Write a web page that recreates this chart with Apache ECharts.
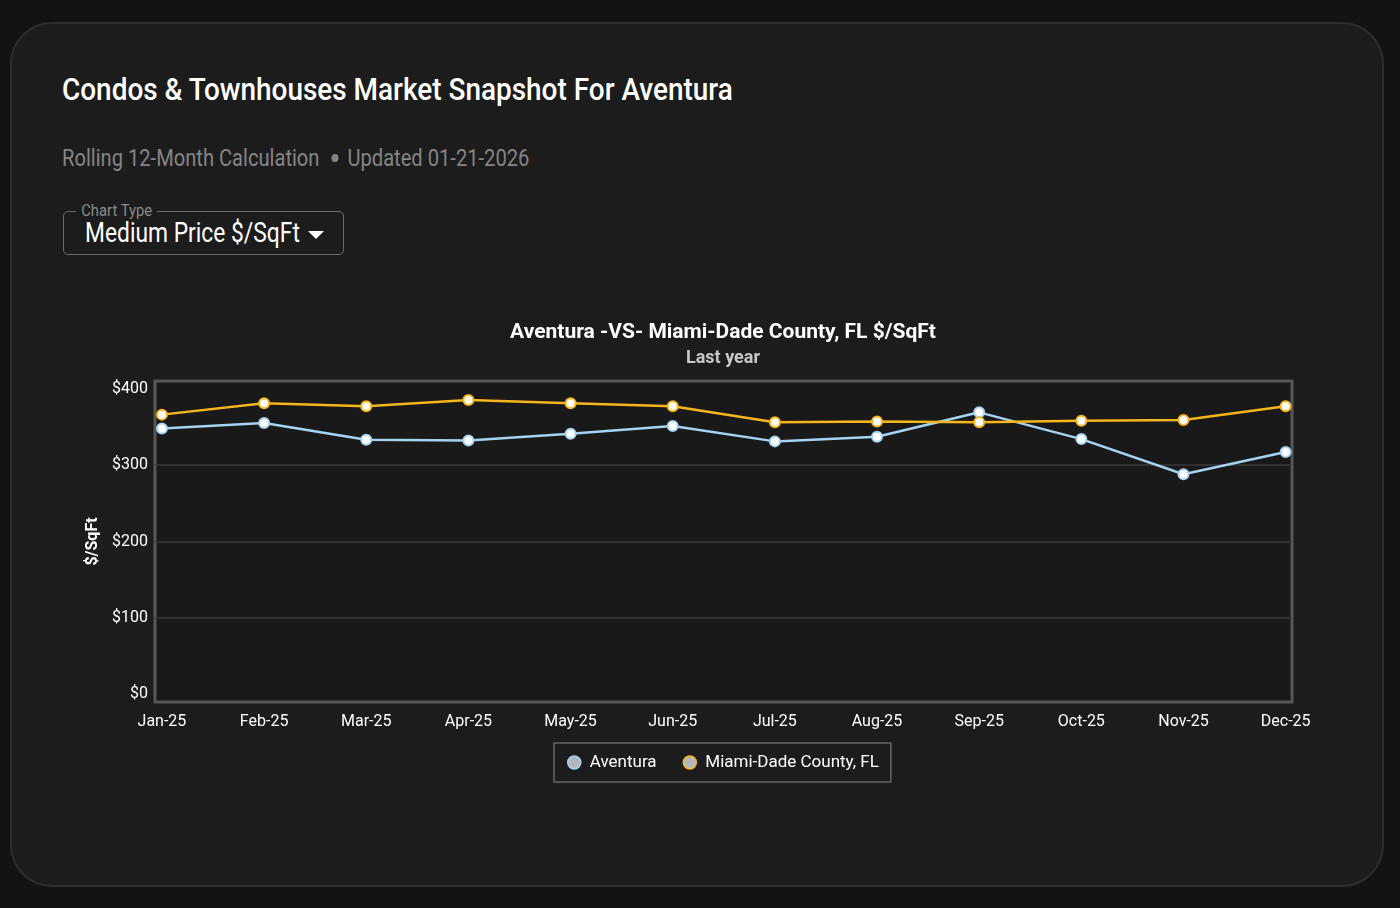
<!DOCTYPE html>
<html>
<head>
<meta charset="utf-8">
<title>Condos & Townhouses Market Snapshot For Aventura</title>
<script src="https://cdn.jsdelivr.net/npm/echarts@6/dist/echarts.min.js"></script>
<style>
  html, body { margin: 0; padding: 0; background: #131313; width: 1400px; height: 908px; overflow: hidden; font-family: Roboto, "Noto Sans", sans-serif; }
  .card { position: absolute; left: 10px; top: 22px; width: 1370px; height: 861px; background: #1c1c1c; border: 2px solid #2e2e2e; border-radius: 42px; }
  .head { position: absolute; left: 62px; top: 70px; color: #fff; font-size: 32px; font-weight: 500; transform: scaleX(0.873); transform-origin: left top; white-space: nowrap; }
  .sub { position: absolute; left: 62px; top: 145px; color: #858585; font-size: 23px; transform: scaleX(0.875); transform-origin: left top; white-space: nowrap; }
  .sub .dot { display: inline-block; width: 8px; height: 8px; border-radius: 50%; background: #858585; margin: 0 10px 0 14px; vertical-align: middle; position: relative; top: -2px; }
  .select { position: absolute; left: 63px; top: 211px; width: 281px; height: 44px; border: 1px solid #6a6a6a; border-radius: 5px; box-sizing: border-box; }
  .select .lbl { position: absolute; left: 12px; top: -12px; padding: 0 6px; background: #1c1c1c; color: #8a8a8a; font-size: 17px; transform: scaleX(0.87); transform-origin: left top; white-space: nowrap; }
  .select .val { position: absolute; left: 21px; top: 5px; color: #fff; font-size: 27px; transform: scaleX(0.845); transform-origin: left top; white-space: nowrap; }
  .select .caret { position: absolute; left: 244px; top: 19px; width: 0; height: 0; border-left: 8px solid transparent; border-right: 8px solid transparent; border-top: 8px solid #fff; }
  #chart { position: absolute; left: 0; top: 0; width: 1400px; height: 908px; }
</style>
</head>
<body>
<div class="card"></div>
<div class="head">Condos &amp; Townhouses Market Snapshot For Aventura</div>
<div class="sub">Rolling 12-Month Calculation<span class="dot"></span>Updated 01-21-2026</div>
<div class="select">
  <div class="lbl">Chart Type</div>
  <div class="val">Medium Price $/SqFt</div>
  <div class="caret"></div>
</div>
<div id="chart"></div>
<script>
// $/SqFt, last 12 months
const months = ['Jan-25', 'Feb-25', 'Mar-25', 'Apr-25', 'May-25', 'Jun-25', 'Jul-25', 'Aug-25', 'Sep-25', 'Oct-25', 'Nov-25', 'Dec-25'];
const aventura = [348, 355, 333, 332, 341, 351, 331, 337, 369, 334, 288, 317];
const miamiDade = [366, 381, 377, 385, 381, 377, 356, 357, 356, 358, 359, 377];
const yTicks = [0, 100, 200, 300, 400];
const yGridLines = [100, 200, 300];
const seriesNames = ['Aventura', 'Miami-Dade County, FL'];
const seriesColors = ['#a6d3f2', '#f7b51e'];

function toPoints(values) {
  return values.map(function(v, i) { return [i, v]; });
}

function renderChart() {
  const dom = document.getElementById('chart');
  const chart = echarts.init(dom, null, {renderer: 'canvas'});
  const option = {
    backgroundColor: 'transparent',
    textStyle: {fontFamily: 'Roboto'},
    title: {
      text: 'Aventura -VS- Miami-Dade County, FL $/SqFt',
      subtext: 'Last year',
      left: 718,
      textAlign: 'center',
      top: 317,
      itemGap: 6,
      textStyle: {color: '#fff', fontSize: 21, fontWeight: 'bold', fontFamily: 'Roboto'},
      subtextStyle: {color: '#c8c8c8', fontSize: 18, fontWeight: 'bold', fontFamily: 'Roboto'},
    },
    legend: {
      data: seriesNames.map(function(name, i) {
        return {name: name, itemStyle: {color: '#b4b8bc', borderColor: seriesColors[i], borderWidth: 1.5}};
      }),
      left: 554,
      top: 743,
      icon: 'circle',
      itemWidth: 13,
      itemHeight: 13,
      itemGap: 26,
      padding: [11, 12, 11, 13],
      borderColor: '#666',
      borderWidth: 1.5,
      borderRadius: 0,
      textStyle: {color: '#fff', fontSize: 17, fontFamily: 'Roboto', padding: [0, 0, 0, 4]},
    },
    grid: {
      left: 155,
      top: 381,
      width: 1137,
      height: 321,
      show: true,
      backgroundColor: '#191919',
      borderColor: '#575757',
      borderWidth: 3,
    },
    xAxis: {
      type: 'value',
      min: -0.068,
      max: 11.062,
      axisLine: {show: false},
      axisTick: {show: false, customValues: months.map(function(m, i) { return i; })},
      splitLine: {show: false},
      axisLabel: {
        customValues: months.map(function(m, i) { return i; }),
        formatter: function(v) { return months[Math.round(v)]; },
        color: '#fff',
        fontSize: 16,
        margin: 12,
        showMinLabel: true,
        showMaxLabel: true,
      },
    },
    yAxis: {
      type: 'value',
      min: -10,
      max: 410,
      name: '$/SqFt',
      nameLocation: 'middle',
      nameGap: 54,
      nameTextStyle: {color: '#fff', fontSize: 16, fontWeight: 'bold'},
      axisLine: {show: false},
      axisTick: {show: false, customValues: yGridLines},
      axisLabel: {
        customValues: yTicks,
        formatter: '${value}',
        color: '#fff',
        fontSize: 16,
        margin: 7,
      },
      splitLine: {show: true, lineStyle: {color: '#383838', width: 1.5}},
    },
    series: [{
      name: seriesNames[0],
      type: 'line',
      data: toPoints(aventura),
      symbol: 'circle',
      symbolSize: 10,
      lineStyle: {color: seriesColors[0], width: 2.5},
      itemStyle: {color: '#fff', borderColor: seriesColors[0], borderWidth: 2},
      z: 2,
    }, {
      name: seriesNames[1],
      type: 'line',
      data: toPoints(miamiDade),
      symbol: 'circle',
      symbolSize: 10,
      lineStyle: {color: seriesColors[1], width: 2.5},
      itemStyle: {color: '#fff', borderColor: seriesColors[1], borderWidth: 2},
      z: 3,
    }]
  };
  chart.setOption(option, true);
}

renderChart();
</script>
</body>
</html>
